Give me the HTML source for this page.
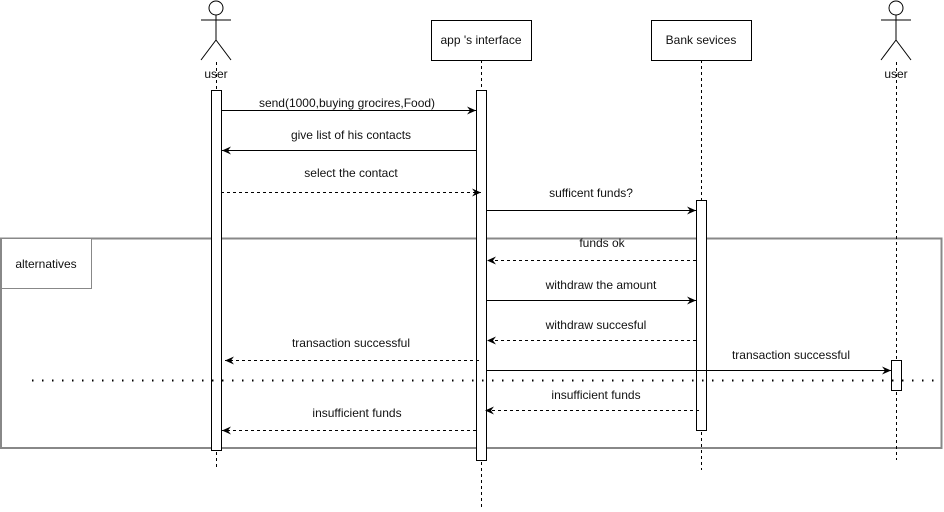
<!DOCTYPE html>
<html><head><style>
html,body{margin:0;padding:0;background:#fff;}
svg{display:block;}
text{font-family:"Liberation Sans",Arial,sans-serif;font-size:12px;fill:#111;}
</style></head><body>
<svg width="944" height="512" viewBox="0 0 944 512" xmlns="http://www.w3.org/2000/svg">
<defs>
<marker id="a" markerWidth="10" markerHeight="8" refX="9" refY="4" orient="auto" markerUnits="userSpaceOnUse">
<path d="M0,0 L9,4 L0,8 L3,4 Z" fill="#000"/>
</marker>
</defs>
<rect x="1" y="238.5" width="940.5" height="209.5" fill="none" stroke="#888" stroke-width="2"/>
<rect x="1.5" y="238.5" width="90" height="50" fill="#fff" stroke="#888" stroke-width="1"/>
<text x="46" y="268" text-anchor="middle">alternatives</text>

<g stroke="#000" stroke-width="1" fill="#fff">
<circle cx="216" cy="8" r="7"/>
<line x1="216" y1="15" x2="216" y2="40"/>
<line x1="201" y1="20" x2="231" y2="20"/>
<line x1="216" y1="40" x2="201" y2="60"/>
<line x1="216" y1="40" x2="231" y2="60"/>
<circle cx="896" cy="8" r="7"/>
<line x1="896" y1="15" x2="896" y2="40"/>
<line x1="881" y1="20" x2="911" y2="20"/>
<line x1="896" y1="40" x2="881" y2="60"/>
<line x1="896" y1="40" x2="911" y2="60"/>
</g>
<text x="216" y="78" text-anchor="middle">user</text>
<text x="896" y="78" text-anchor="middle">user</text>

<g stroke="#000" stroke-width="1" stroke-dasharray="3,3">
<line x1="216.5" y1="62" x2="216.5" y2="470"/>
<line x1="481.5" y1="60" x2="481.5" y2="510"/>
<line x1="701.5" y1="60" x2="701.5" y2="470"/>
<line x1="896.5" y1="62" x2="896.5" y2="460"/>
</g>
<rect x="431.5" y="20.5" width="100" height="40" fill="#fff" stroke="#000"/>
<text x="481" y="44" text-anchor="middle">app 's interface</text>
<rect x="651.5" y="20.5" width="100" height="40" fill="#fff" stroke="#000"/>
<text x="701" y="44" text-anchor="middle">Bank sevices</text>

<g fill="#fff" stroke="#000">
<rect x="211.5" y="90.5" width="10" height="360"/>
<rect x="476.5" y="90.5" width="10" height="370"/>
<rect x="696.5" y="200.5" width="10" height="230"/>
<rect x="891.5" y="360.5" width="10" height="30"/>
</g>

<line x1="32" y1="380.5" x2="940" y2="380.5" stroke="#000" stroke-width="2" stroke-dasharray="1.5,8.5"/>

<g stroke="#000" stroke-width="1" fill="none" marker-end="url(#a)">
<line x1="221" y1="110.5" x2="476" y2="110.5"/>
<line x1="476" y1="150.5" x2="222" y2="150.5"/>
<line x1="221" y1="192.5" x2="481" y2="192.5" stroke-dasharray="3,3"/>
<line x1="486" y1="210.5" x2="696" y2="210.5"/>
<line x1="696" y1="260.5" x2="487" y2="260.5" stroke-dasharray="3,3"/>
<line x1="486" y1="300.5" x2="696" y2="300.5"/>
<line x1="696" y1="340.5" x2="487" y2="340.5" stroke-dasharray="3,3"/>
<line x1="479" y1="360.5" x2="225" y2="360.5" stroke-dasharray="3,3"/>
<line x1="486" y1="370.5" x2="891" y2="370.5"/>
<line x1="699" y1="410.5" x2="485" y2="410.5" stroke-dasharray="3,3"/>
<line x1="476" y1="430.5" x2="222" y2="430.5" stroke-dasharray="3,3"/>
</g>
<g text-anchor="middle">
<text x="347" y="107">send(1000,buying grocires,Food)</text>
<text x="351" y="139">give list of his contacts</text>
<text x="351" y="177">select the contact</text>
<text x="591" y="197">sufficent funds?</text>
<text x="602" y="247">funds ok</text>
<text x="601" y="289">withdraw the amount</text>
<text x="596" y="329">withdraw succesful</text>
<text x="351" y="347">transaction successful</text>
<text x="791" y="359">transaction successful</text>
<text x="596" y="399">insufficient funds</text>
<text x="357" y="417">insufficient funds</text>
</g>
</svg>
</body></html>
